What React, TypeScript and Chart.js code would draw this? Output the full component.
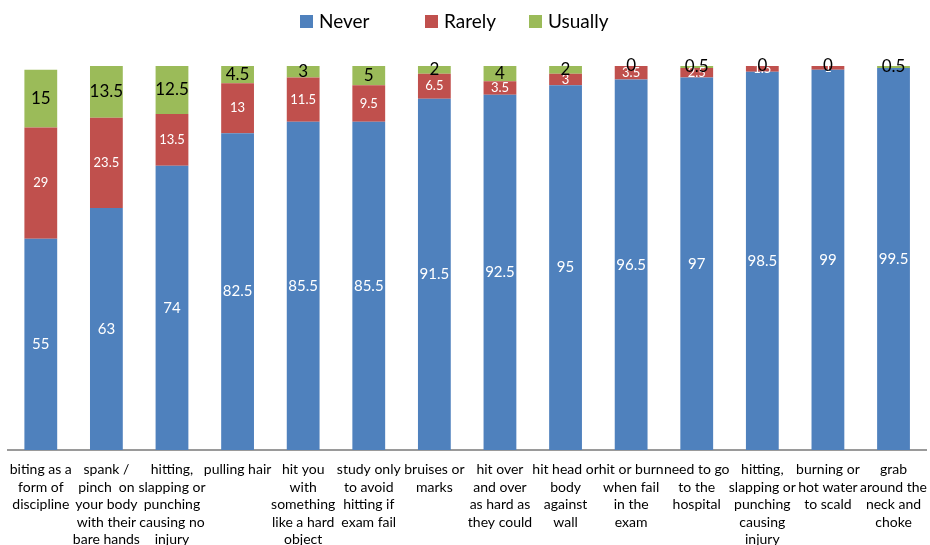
import React, { useEffect, useRef } from "react";
import { Chart, registerables } from "chart.js";

Chart.register(...registerables);

const categories: string[][] = [
  ["biting as a", "form of", "discipline"],
  ["spank /", "pinch  on", "your body", "with their", "bare hands"],
  ["hitting,", "slapping or", "punching", "causing no", "injury"],
  ["pulling hair"],
  ["hit you", "with", "something", "like a hard", "object"],
  ["study only", "to avoid", "hitting if", "exam fail"],
  ["bruises or", "marks"],
  ["hit over", "and over", "as hard as", "they could"],
  ["hit head or", "body", "against", "wall"],
  ["hit or burn", "when fail", "in the", "exam"],
  ["need to go", "to the", "hospital"],
  ["hitting,", "slapping or", "punching", "causing", "injury"],
  ["burning or", "hot water", "to scald"],
  ["grab", "around the", "neck and", "choke"],
];

const never = [55, 63, 74, 82.5, 85.5, 85.5, 91.5, 92.5, 95, 96.5, 97, 98.5, 99, 99.5];
const rarely = [29, 23.5, 13.5, 13, 11.5, 9.5, 6.5, 3.5, 3, 3.5, 2.5, 1.5, 1, 0];
const usually = [15, 13.5, 12.5, 4.5, 3, 5, 2, 4, 2, 0, 0.5, 0, 0, 0.5];

const seriesNames = ["Never", "Rarely", "Usually"];
const colors = ["#4F81BD", "#C0504D", "#9BBB59"];

const FONT = "Lato, 'Open Sans', sans-serif";

const labelPlugin = {
  id: "segLabels",
  afterDatasetsDraw(chart: any) {
    const ctx = chart.ctx;
    ctx.save();
    ctx.textAlign = "center";
    ctx.textBaseline = "middle";
    chart.data.datasets.forEach((ds: any, di: number) => {
      const meta = chart.getDatasetMeta(di);
      meta.data.forEach((bar: any, i: number) => {
        const v = ds.data[i];
        if (di === 1 && v === 0) return;
        const y = (bar.y + bar.base) / 2;
        if (di === 0) {
          ctx.fillStyle = "#ffffff";
          ctx.font = `15px ${FONT}`;
        } else if (di === 1) {
          ctx.fillStyle = "#ffffff";
          ctx.font = `13px ${FONT}`;
        } else {
          ctx.fillStyle = "#000000";
          ctx.font = `17px ${FONT}`;
        }
        ctx.fillText(String(v), bar.x, y);
      });
    });
    // legend
    const items = [
      { x: 300, label: seriesNames[0], c: colors[0] },
      { x: 425, label: seriesNames[1], c: colors[1] },
      { x: 529, label: seriesNames[2], c: colors[2] },
    ];
    ctx.textAlign = "left";
    ctx.font = `19px ${FONT}`;
    items.forEach((it) => {
      ctx.fillStyle = it.c;
      ctx.fillRect(it.x, 15, 13, 13);
      ctx.fillStyle = "#000000";
      ctx.fillText(it.label, it.x + 19, 22);
    });
    ctx.restore();
  },
};

export default function App() {
  const ref = useRef<HTMLCanvasElement | null>(null);
  useEffect(() => {
    if (!ref.current) return;
    const chart = new Chart(ref.current, {
      type: "bar",
      data: {
        labels: categories,
        datasets: [
          { label: seriesNames[0], data: never, backgroundColor: colors[0] },
          { label: seriesNames[1], data: rarely, backgroundColor: colors[1] },
          { label: seriesNames[2], data: usually, backgroundColor: colors[2] },
        ].map((d) => ({ ...d, categoryPercentage: 1, barPercentage: 0.5 })),
      },
      options: {
        animation: false,
        responsive: false,
        maintainAspectRatio: false,
        layout: { padding: { top: 66, left: 8, right: 0, bottom: 0 } },
        plugins: { legend: { display: false }, tooltip: { enabled: false } },
        scales: {
          x: {
            stacked: true,
            grid: { display: false },
            border: { display: true, color: "#9a9a9a", width: 2 },
            ticks: {
              color: "#000000",
              font: { family: FONT, size: 14, lineHeight: 1.25 },
              maxRotation: 0,
              autoSkip: false,
              padding: 3,
            },
            afterFit: (scale: any) => {
              scale.height = 95;
            },
          },
          y: {
            stacked: true,
            display: false,
            min: 0,
            max: 100,
          },
        },
      },
      plugins: [labelPlugin],
    });
    return () => chart.destroy();
  }, []);
  return (
    <div style={{ position: "fixed", left: 0, top: 0, width: 930, height: 545, background: "#fff" }}>
      <canvas ref={ref} width={930} height={545} />
    </div>
  );
}
